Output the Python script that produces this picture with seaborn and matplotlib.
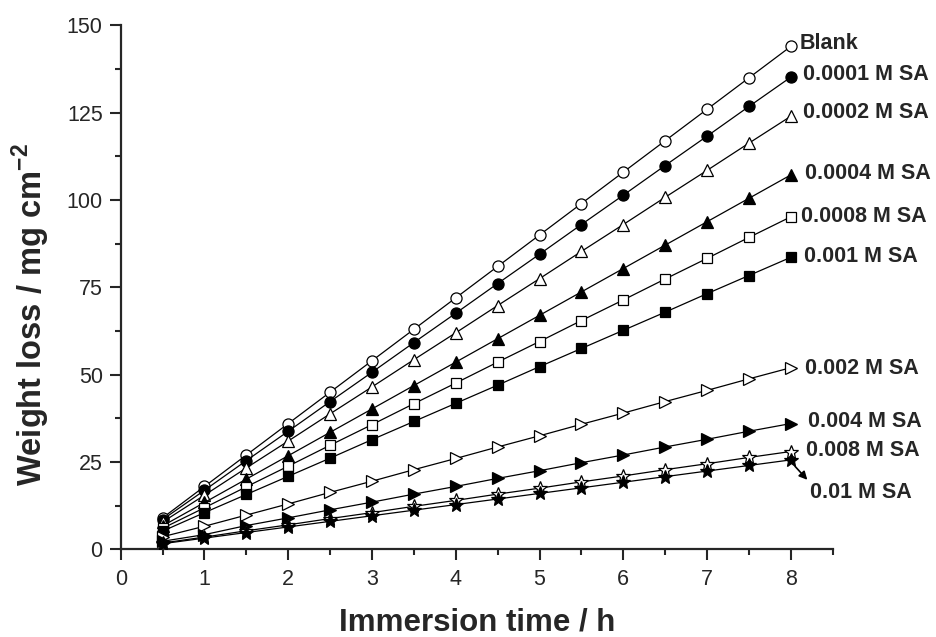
import matplotlib
matplotlib.use("Agg")
import matplotlib.pyplot as plt
from matplotlib.ticker import MultipleLocator
import seaborn as sns
import pandas as pd

# immersion time (h)
time_h = [0.5, 1, 1.5, 2, 2.5, 3, 3.5, 4, 4.5, 5, 5.5, 6, 6.5, 7, 7.5, 8]

# weight loss (mg cm-2)
blank = [9, 18, 27, 36, 45, 54, 63, 72, 81, 90, 99, 108, 117, 126, 135, 144]
sa_0001 = [8.5, 16.9, 25.4, 33.8, 42.3, 50.7, 59.2, 67.6, 76.1, 84.5, 93.0, 101.4, 109.9, 118.3, 126.8, 135.2]
sa_0002 = [7.8, 15.5, 23.3, 31.0, 38.8, 46.5, 54.3, 62.0, 69.8, 77.5, 85.3, 93.0, 100.8, 108.5, 116.3, 124.0]
sa_0004 = [6.7, 13.4, 20.1, 26.8, 33.5, 40.2, 46.9, 53.6, 60.3, 67.0, 73.7, 80.4, 87.1, 93.8, 100.5, 107.2]
sa_0008 = [6.0, 11.9, 17.9, 23.8, 29.8, 35.7, 41.7, 47.6, 53.6, 59.5, 65.5, 71.4, 77.4, 83.3, 89.3, 95.2]
sa_001 = [5.2, 10.5, 15.7, 20.9, 26.1, 31.4, 36.6, 41.8, 47.0, 52.3, 57.5, 62.7, 67.9, 73.2, 78.4, 83.6]
sa_002 = [3.6, 6.6, 9.8, 13.0, 16.3, 19.5, 22.8, 26.0, 29.3, 32.5, 35.8, 39.0, 42.3, 45.5, 48.8, 52.0]
sa_004 = [2.3, 4.2, 6.8, 9.0, 11.3, 13.5, 15.8, 18.0, 20.3, 22.5, 24.8, 27.0, 29.3, 31.5, 33.8, 36.0]
sa_008 = [1.8, 3.5, 5.3, 7.0, 8.8, 10.5, 12.3, 14.0, 15.8, 17.5, 19.3, 21.0, 22.8, 24.5, 26.3, 28.0]
sa_01 = [1.6, 3.2, 4.8, 6.4, 8.0, 9.6, 11.2, 12.8, 14.4, 16.0, 17.6, 19.2, 20.8, 22.4, 24.0, 25.6]

labels = ['Blank', '0.0001 M SA', '0.0002 M SA', '0.0004 M SA', '0.0008 M SA',
          '0.001 M SA', '0.002 M SA', '0.004 M SA', '0.008 M SA', '0.01 M SA']
series = [blank, sa_0001, sa_0002, sa_0004, sa_0008, sa_001, sa_002, sa_004, sa_008, sa_01]

# marker style per series: (marker, filled, size)
styles = [('o', False, 8), ('o', True, 8), ('^', False, 8.5), ('^', True, 8.5),
          ('s', False, 6.5), ('s', True, 6.5), ('>', False, 8.5), ('>', True, 8.5),
          ('*', False, 10), ('*', True, 10)]

# where the curve labels sit (x, y in data units)
label_pos = [(8.11, 144.9), (8.14, 136), (8.14, 125), (8.17, 107.6), (8.12, 95.2),
             (8.16, 83.8), (8.17, 51.8), (8.2, 36.5), (8.18, 28.4), (8.23, 16.2)]

df = pd.DataFrame({'time': time_h * len(series),
                   'loss': [v for s in series for v in s],
                   'group': [lab for lab in labels for _ in time_h]})

sns.set_theme(style='ticks')
plt.rcParams['font.family'] = ['Liberation Sans', 'DejaVu Sans']
plt.rcParams['mathtext.fontset'] = 'custom'
plt.rcParams['mathtext.rm'] = 'Liberation Sans'
plt.rcParams['mathtext.bf'] = 'Liberation Sans:bold'

fig = plt.figure(figsize=(9.36, 6.37), dpi=100)
ax = fig.add_axes([0.129, 0.1377, 0.7606, 0.8223])

for lab, (mk, filled, ms) in zip(labels, styles):
    sub = df[df['group'] == lab]
    sns.lineplot(data=sub, x='time', y='loss', ax=ax, color='black', lw=0.9,
                 marker=mk, markersize=ms, markeredgecolor='black', markeredgewidth=0.9,
                 markerfacecolor='black' if filled else 'white', zorder=3)

for lab, (lx, ly) in zip(labels, label_pos):
    ax.text(lx, ly, lab, fontsize=15.5, fontweight='bold', ha='left', va='center',
            clip_on=False)

# arrow pointing from the last filled star to its label
ax.annotate('', xy=(8.22, 19.3), xytext=(8.03, 24.3),
            arrowprops=dict(arrowstyle='-|>', color='black', lw=1.2, mutation_scale=12),
            annotation_clip=False)

ax.set_xlim(0, 8.5)
ax.set_ylim(0, 150)
ax.xaxis.set_major_locator(MultipleLocator(1))
ax.xaxis.set_minor_locator(MultipleLocator(0.5))
ax.yaxis.set_major_locator(MultipleLocator(25))
ax.yaxis.set_minor_locator(MultipleLocator(12.5))
ax.tick_params(which='major', length=8, width=1.5, labelsize=15.5, direction='out')
ax.tick_params(which='minor', length=4.5, width=1.5, direction='out')
ax.tick_params(axis='x', pad=6)
ax.tick_params(axis='y', pad=5)

for side in ['left', 'bottom']:
    ax.spines[side].set_linewidth(1.6)
sns.despine(ax=ax)

ax.set_xlabel('Immersion time / h', fontsize=22.5, fontweight='bold', va='baseline')
ax.xaxis.set_label_coords(0.5, -0.155)
ax.set_ylabel(r'Weight loss / mg cm$^{\mathbf{-2}}$', fontsize=23.5, fontweight='bold',
              va='center')
ax.yaxis.set_label_coords(-0.126, 0.449)

fig.savefig('out.png', dpi=100)
